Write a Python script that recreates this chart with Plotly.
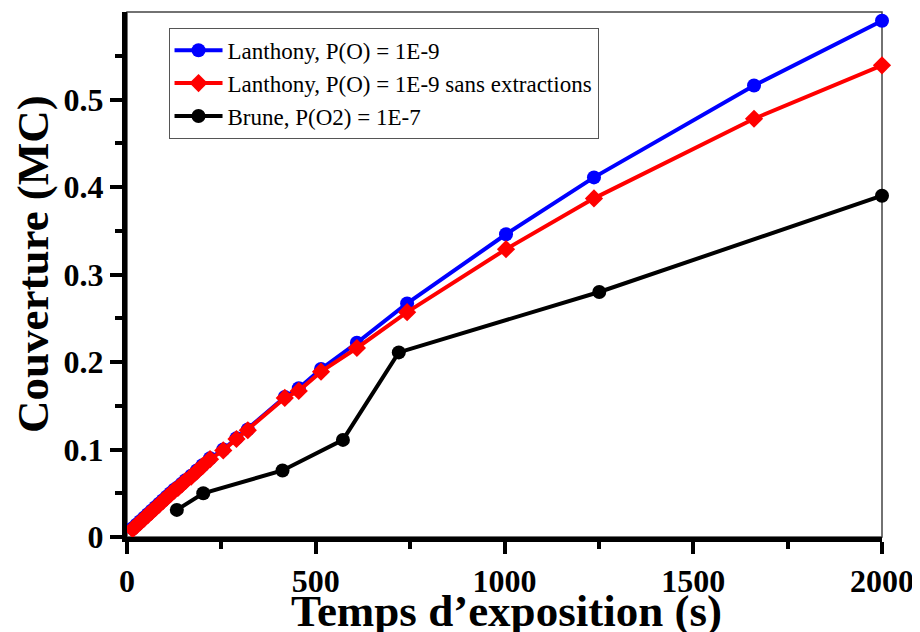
import plotly.graph_objects as go

# Lanthony, P(O) = 1E-9
lanthony_t = [15, 25, 35, 45, 55, 65, 75, 85, 95, 105, 115, 125, 135, 145, 155,
              170, 185, 200, 220, 255, 290, 320, 418, 455, 514, 609, 742, 1004,
              1237, 1661, 2000]
lanthony_c = [0.010, 0.014, 0.018, 0.022, 0.026, 0.030, 0.034, 0.038, 0.042,
              0.046, 0.050, 0.054, 0.057, 0.061, 0.065, 0.070, 0.076, 0.082,
              0.090, 0.100, 0.113, 0.123, 0.160, 0.170, 0.192, 0.222, 0.267,
              0.346, 0.411, 0.516, 0.590]

# Lanthony, P(O) = 1E-9 sans extractions
sans_t = lanthony_t
sans_c = [0.009, 0.013, 0.017, 0.021, 0.025, 0.029, 0.033, 0.037, 0.041,
          0.045, 0.049, 0.053, 0.056, 0.060, 0.064, 0.069, 0.075, 0.081,
          0.089, 0.099, 0.112, 0.122, 0.159, 0.167, 0.189, 0.216, 0.257,
          0.329, 0.387, 0.478, 0.539]

# Brune, P(O2) = 1E-7
brune_t = [132, 202, 412, 572, 720, 1251, 2000]
brune_c = [0.031, 0.050, 0.076, 0.111, 0.211, 0.280, 0.390]

x_ticks = [0, 500, 1000, 1500, 2000]
x_labels = ["0", "500", "1000", "1500", "2000"]
y_ticks = [0, 0.1, 0.2, 0.3, 0.4, 0.5]
y_labels = ["0", "0.1", "0.2", "0.3", "0.4", "0.5"]
x_title = "Temps d’exposition (s)"
y_title = "Couverture (MC)"

FONT = "Liberation Serif, Times New Roman, serif"

fig = go.Figure()
fig.add_trace(go.Scatter(
    x=lanthony_t, y=lanthony_c, mode="lines+markers",
    name="Lanthony, P(O) = 1E-9",
    line=dict(color="#0000ff", width=4),
    marker=dict(symbol="circle", size=14, color="#0000ff"),
    cliponaxis=False))
fig.add_trace(go.Scatter(
    x=sans_t, y=sans_c, mode="lines+markers",
    name="Lanthony, P(O) = 1E-9 sans extractions",
    line=dict(color="#ff0000", width=4),
    marker=dict(symbol="diamond", size=14, color="#ff0000"),
    cliponaxis=False))
fig.add_trace(go.Scatter(
    x=brune_t, y=brune_c, mode="lines+markers",
    name="Brune, P(O2) = 1E-7",
    line=dict(color="#000000", width=4),
    marker=dict(symbol="circle", size=14, color="#000000"),
    cliponaxis=False))

fig.update_layout(
    width=920, height=632,
    margin=dict(l=119, r=46, t=4, b=103),
    paper_bgcolor="white", plot_bgcolor="white",
    font=dict(family=FONT, color="black"),
    showlegend=True,
    legend=dict(
        x=0.055, y=0.97, xanchor="left", yanchor="top",
        bgcolor="white", bordercolor="#555555", borderwidth=1,
        font=dict(family=FONT, size=23, color="black"),
        itemwidth=48, tracegroupgap=0,
    ),
    shapes=[dict(type="rect", xref="paper", yref="paper", x0=0, x1=1, y0=0, y1=1,
                 line=dict(color="#444444", width=1.5), layer="below")],
    annotations=[
        dict(text="<b>" + x_title + "</b>", xref="paper", yref="paper", x=0.503, y=0,
             xanchor="center", yanchor="top", yshift=-47, showarrow=False,
             font=dict(family=FONT, size=45, weight="bold", color="black")),
        dict(text="<b>" + y_title + "</b>", xref="paper", yref="paper", x=0, y=0.52,
             xanchor="center", yanchor="middle", xshift=-94, textangle=-90,
             showarrow=False,
             font=dict(family=FONT, size=45, weight="bold", color="black")),
    ],
)

fig.update_xaxes(
    range=[0, 2000], showgrid=False, zeroline=False,
    showline=True, linecolor="black", linewidth=5,
    ticks="outside", ticklen=12, tickwidth=4, tickcolor="black",
    tickvals=x_ticks, ticktext=["<b>" + t + "</b>" for t in x_labels],
    minor=dict(dtick=250, ticks="outside", ticklen=7, tickwidth=4, tickcolor="black"),
    tickfont=dict(family=FONT, size=32, weight="bold", color="black"),
    automargin=False,
)
fig.update_yaxes(
    range=[0, 0.6], showgrid=False, zeroline=False,
    showline=True, linecolor="black", linewidth=5,
    ticks="outside", ticklen=12, tickwidth=4, tickcolor="black",
    tickvals=y_ticks, ticktext=["<b>" + t + "</b>" for t in y_labels],
    minor=dict(tickvals=[0.05, 0.15, 0.25, 0.35, 0.45, 0.55], ticks="outside",
               ticklen=7, tickwidth=4, tickcolor="black"),
    tickfont=dict(family=FONT, size=32, weight="bold", color="black"),
    automargin=False,
)

fig.write_html("out.html")
